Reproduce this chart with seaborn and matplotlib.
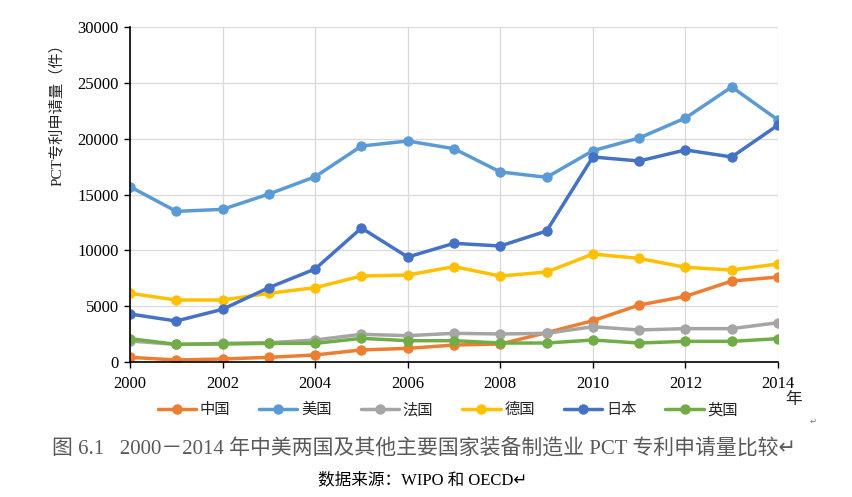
import pandas as pd
import matplotlib.pyplot as plt
import seaborn as sns

years = list(range(2000, 2015))
countries = ['中国', '美国', '法国', '德国', '日本', '英国']
china = [420, 180, 270, 420, 630, 1080, 1220, 1520, 1610, 2630, 3700, 5100, 5880, 7250, 7610]
usa = [15700, 13490, 13670, 15040, 16590, 19340, 19790, 19100, 17020, 16540, 18920, 20060, 21850, 24630, 21670]
france = [1880, 1580, 1670, 1730, 1970, 2480, 2360, 2570, 2510, 2570, 3160, 2870, 2990, 2990, 3520]
germany = [6150, 5550, 5550, 6150, 6660, 7700, 7790, 8540, 7700, 8060, 9670, 9280, 8480, 8240, 8780]
japan = [4300, 3670, 4720, 6660, 8330, 12000, 9400, 10630, 10390, 11730, 18360, 18000, 18990, 18360, 21220]
uk = [2090, 1580, 1610, 1670, 1670, 2120, 1910, 1910, 1700, 1700, 1970, 1700, 1850, 1850, 2090]
colors = ['#ED7D31', '#5B9BD5', '#A5A5A5', '#FFC000', '#4472C4', '#70AD47']

series = [china, usa, france, germany, japan, uk]
rows = []
for name, vals in zip(countries, series):
    for y, v in zip(years, vals):
        rows.append({'year': y, 'value': v, 'country': name})
df = pd.DataFrame(rows)

sns.set_theme(style='white')
plt.rcParams['font.family'] = ['Liberation Serif', 'Noto Sans CJK SC', 'DejaVu Sans']

fig = plt.figure(figsize=(8.53, 4.97), dpi=100)
ax = fig.add_axes([0.1524, 0.2716, 0.7597, 0.6741])

sns.lineplot(data=df, x='year', y='value', hue='country', hue_order=countries,
             palette=colors, marker='o', markersize=7.5, markeredgewidth=0,
             linewidth=2.5, ax=ax)

ax.set_xlim(2000, 2014)
ax.set_ylim(0, 30000)
ax.set_xticks(range(2000, 2015, 2))
ax.set_yticks(range(0, 30001, 5000))
ax.grid(True, color='#D9D9D9', linewidth=0.9)
ax.set_axisbelow(True)
for s in ['top', 'right']:
    ax.spines[s].set_visible(False)
for s in ['left', 'bottom']:
    ax.spines[s].set_color('black')
    ax.spines[s].set_linewidth(1.2)
ax.tick_params(axis='both', labelsize=12, colors='black', length=4, width=1,
               direction='out', bottom=True, left=True)
ax.tick_params(axis='x', pad=6)
ax.tick_params(axis='y', pad=4)
ax.set_xlabel('')
ax.set_ylabel('PCT专利申请量（件）', fontsize=11)
ax.yaxis.set_label_coords(-0.102, 0.75)

handles, labels = ax.get_legend_handles_labels()
ax.legend(handles, labels, loc='center', bbox_to_anchor=(0.525, 0.175),
          bbox_transform=fig.transFigure, ncol=6, frameon=False,
          fontsize=11, handlelength=2.5, columnspacing=1.9, handletextpad=0.25)

fig.text(0.93, 0.195, '年', fontsize=12, ha='center', va='center')
fig.text(0.953, 0.152, '↵', fontsize=6, color='#777777', ha='center', va='center')
fig.text(0.061, 0.095, '图 6.1   2000－2014 年中美两国及其他主要国家装备制造业 PCT 专利申请量比较↵',
         fontsize=15, color='#595959', ha='left', va='center')
fig.text(0.373, 0.034, '数据来源：WIPO 和 OECD↵', fontsize=12, color='black',
         ha='left', va='center')

fig.savefig('out.png', dpi=100)
